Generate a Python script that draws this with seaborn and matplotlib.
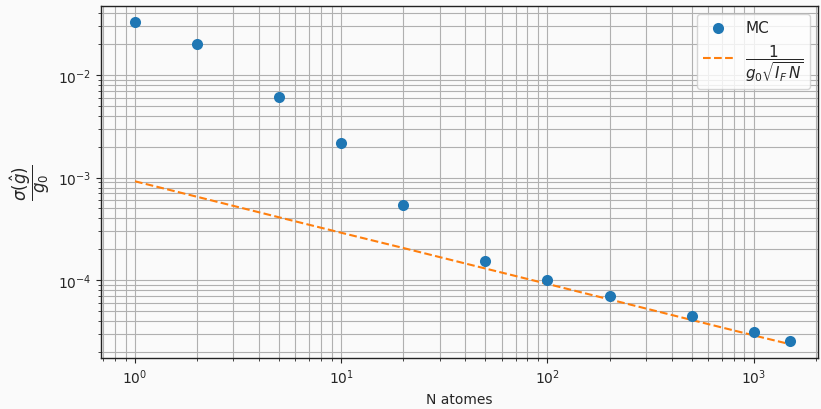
import matplotlib
matplotlib.use("Agg")
import matplotlib.pyplot as plt
import seaborn as sns
import pandas as pd

# Number of atoms simulated
n_atoms = [1, 2, 5, 10, 20, 50, 100, 200, 500, 1000, 1500]
# Monte-Carlo relative standard deviation sigma(g_hat)/g0
mc_sigma = [3.29e-2, 2.00e-2, 6.10e-3, 2.17e-3, 5.40e-4, 1.55e-4,
            1.01e-4, 6.98e-5, 4.46e-5, 3.11e-5, 2.54e-5]
# Cramer-Rao bound 1/(g0 sqrt(I_F N)) at the same atom numbers
crb_sigma = [9.2e-4, 6.5e-4, 4.1e-4, 2.9e-4, 2.06e-4, 1.3e-4,
             9.2e-5, 6.5e-5, 4.1e-5, 2.9e-5, 2.38e-5]

df = pd.DataFrame({"N": n_atoms, "mc": mc_sigma, "crb": crb_sigma})

bg = "#fafafa"
sns.set_style("ticks")
plt.rcParams["font.family"] = ["DejaVu Sans"]
plt.rcParams["mathtext.fontset"] = "dejavusans"

fig, ax = plt.subplots(figsize=(8.21, 4.10), dpi=100)
fig.patch.set_facecolor(bg)
ax.set_facecolor(bg)

sns.scatterplot(data=df, x="N", y="mc", ax=ax, color="#1f77b4", s=64,
                linewidth=0, label="MC", zorder=3)
sns.lineplot(data=df, x="N", y="crb", ax=ax, color="#ff7f0e", linestyle="--",
             linewidth=1.5, label=r"$\dfrac{1}{g_0\sqrt{I_F\, N}}$", zorder=2)

ax.set_xscale("log")
ax.set_yscale("log")
ax.set_xlim(0.684, 2043)
ax.set_ylim(1.74e-5, 0.047)
ax.grid(True, which="both", color="#b0b0b0", linewidth=0.8)
ax.set_axisbelow(True)
for s in ax.spines.values():
    s.set_visible(True)
    s.set_color("#222222")
    s.set_linewidth(1.0)

ax.set_xlabel("N atomes", fontsize=10)
ax.set_ylabel(r"$\dfrac{\sigma(\hat{g})}{g_0}$", fontsize=12)
ax.tick_params(labelsize=10)

leg = ax.legend(loc="upper right", fontsize=11, framealpha=0.8)

fig.subplots_adjust(left=0.123, right=0.996, top=0.983, bottom=0.124)
fig.savefig("out.png", dpi=100, facecolor=bg)
